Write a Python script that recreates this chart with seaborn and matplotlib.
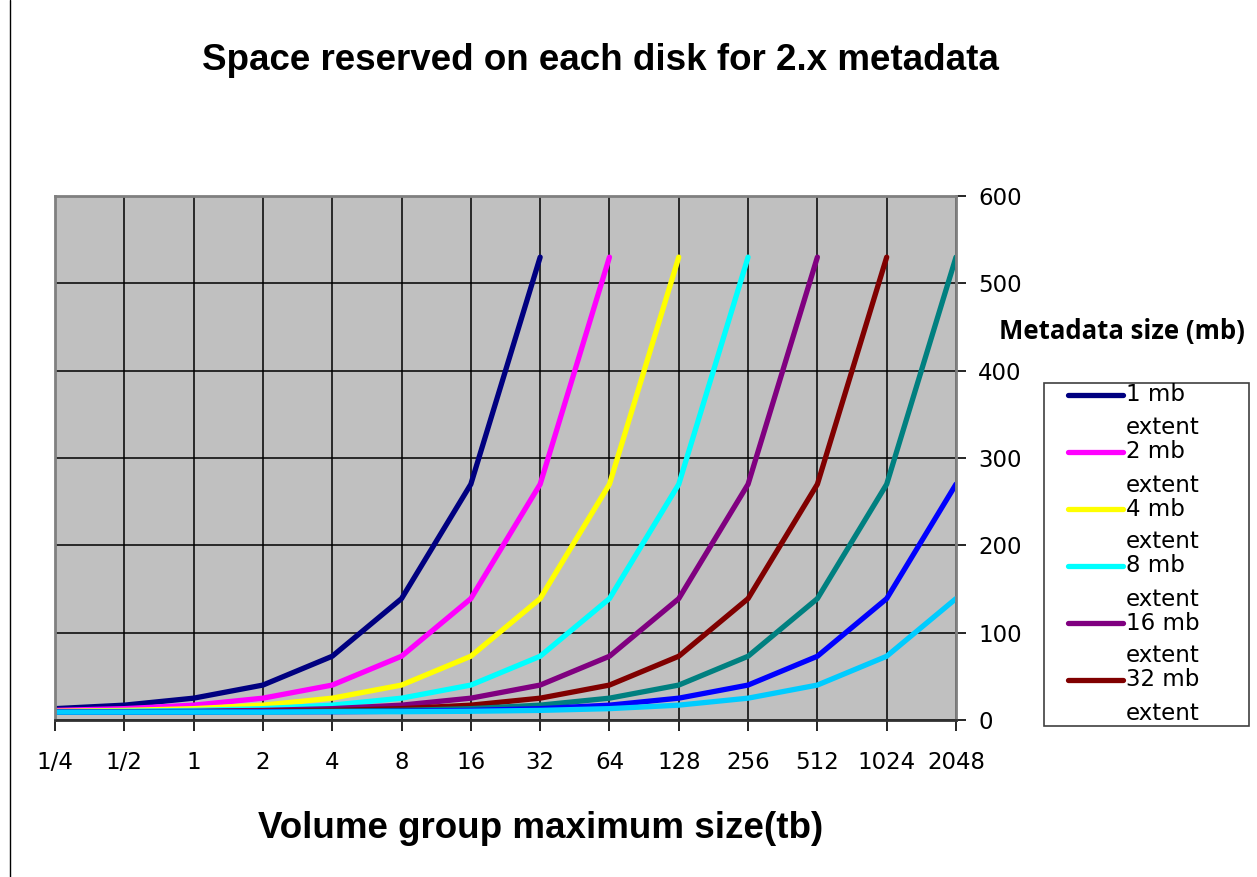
import numpy as np
import pandas as pd
import matplotlib
matplotlib.use("Agg")
import matplotlib.pyplot as plt
from matplotlib.lines import Line2D
from matplotlib.patches import Rectangle
import seaborn as sns

# Volume group maximum size (tb) categories
sizes = ["1/4", "1/2", "1", "2", "4", "8", "16", "32", "64", "128", "256", "512", "1024", "2048"]

# Metadata space reserved per disk (mb), one list per physical extent size
ext_1mb = [13, 17, 25, 40, 73, 139, 270, 530, None, None, None, None, None, None]
ext_2mb = [11, 13, 17, 25, 40, 73, 139, 270, 530, None, None, None, None, None]
ext_4mb = [10, 11, 13, 17, 25, 40, 73, 139, 270, 530, None, None, None, None]
ext_8mb = [9.5, 10, 11, 13, 17, 25, 40, 73, 139, 270, 530, None, None, None]
ext_16mb = [9.5, 9.5, 10, 11, 13, 17, 25, 40, 73, 139, 270, 530, None, None]
ext_32mb = [9, 9.5, 9.5, 10, 11, 13, 17, 25, 40, 73, 139, 270, 530, None]
ext_64mb = [9, 9, 9.5, 9.5, 10, 11, 13, 17, 25, 40, 73, 139, 270, 530]
ext_128mb = [9, 9, 9, 9.5, 9.5, 10, 11, 13, 17, 25, 40, 73, 139, 270]
ext_256mb = [9, 9, 9, 9, 9.5, 9.5, 10, 11, 13, 17, 25, 40, 73, 139]

series_names = ["1 mb", "2 mb", "4 mb", "8 mb", "16 mb", "32 mb", "64 mb", "128 mb", "256 mb"]
series_values = [ext_1mb, ext_2mb, ext_4mb, ext_8mb, ext_16mb, ext_32mb, ext_64mb, ext_128mb, ext_256mb]
series_colors = ["#000080", "#FF00FF", "#FFFF00", "#00FFFF", "#800080",
                 "#800000", "#008080", "#0000FF", "#00CCFF"]
legend_count = 6  # only the first entries fit in the legend box

rows = []
for name, vals in zip(series_names, series_values):
    for pos, (lab, v) in enumerate(zip(sizes, vals)):
        if v is not None:
            rows.append({"extent": name, "pos": pos, "size": lab, "mb": v})
df = pd.DataFrame(rows)

sns.set_theme(style="white")
plt.rcParams["font.family"] = ["DejaVu Sans"]
plt.rcParams["text.color"] = "black"
plt.rcParams["xtick.color"] = "black"
plt.rcParams["ytick.color"] = "black"
plt.rcParams["axes.labelcolor"] = "black"

W, H = 1257, 877
fig = plt.figure(figsize=(W / 100, H / 100), dpi=100)
fig.patch.set_facecolor("white")

def fx(px):
    return px / W

def fy(py):
    return 1 - py / H

ax = fig.add_axes([fx(55), fy(720), fx(956) - fx(55), fy(196) - fy(720)])
ax.set_facecolor("#C0C0C0")

sns.lineplot(data=df, x="pos", y="mb", hue="extent", hue_order=series_names,
             palette=dict(zip(series_names, series_colors)), linewidth=3.8,
             estimator=None, sort=True, legend=False, ax=ax)

ax.set_xlim(0, len(sizes) - 1)
ax.set_ylim(0, 600)
ax.set_xticks(range(len(sizes)))
ax.set_xticklabels(sizes)
ax.set_yticks(range(0, 601, 100))
ax.yaxis.tick_right()
ax.set_xlabel("")
ax.set_ylabel("")

ax.grid(True, color="black", linewidth=1.1)
ax.set_axisbelow(True)
ax.tick_params(axis="x", direction="out", length=8, width=1.2, color="black",
               pad=14, labelsize=16.5, labelcolor="black", bottom=True)
ax.tick_params(axis="y", direction="out", length=7, width=1.2, color="black",
               pad=9, labelsize=16.5, labelcolor="black", right=True, left=False)
for side in ["top", "left", "right"]:
    ax.spines[side].set_color("#808080")
    ax.spines[side].set_linewidth(2)
ax.spines["bottom"].set_color("#303030")
ax.spines["bottom"].set_linewidth(2)

# Titles
fig.text(fx(600), fy(60), "Space reserved on each disk for 2.x metadata",
         ha="center", va="center", fontsize=26.5, fontweight="bold", color="black",
         family=["Liberation Sans", "DejaVu Sans"])
fig.text(fx(541), fy(828), "Volume group maximum size(tb)",
         ha="center", va="center", fontsize=26.5, fontweight="bold", color="black",
         family=["Liberation Sans", "DejaVu Sans"])
fig.text(fx(1122), fy(331), "Metadata size (mb)",
         ha="center", va="center", fontsize=18.5, fontweight="bold", color="black",
         family=["Open Sans", "DejaVu Sans"])

# Legend box with wrapped entries
fig.add_artist(Rectangle((fx(1044), fy(726)), fx(1249) - fx(1044), fy(383) - fy(726),
                         transform=fig.transFigure, facecolor="white",
                         edgecolor="#404040", linewidth=1.2))
for j in range(legend_count):
    yc = 395 + 57 * j
    fig.add_artist(Line2D([fx(1068), fx(1123)], [fy(yc), fy(yc)],
                          transform=fig.transFigure, color=series_colors[j],
                          linewidth=3.8, solid_capstyle="round"))
    fig.text(fx(1126), fy(yc), series_names[j], ha="left", va="center",
             fontsize=16.5, color="black")
    fig.text(fx(1126), fy(yc + 33), "extent", ha="left", va="center",
             fontsize=16.5, color="black")

# Outer chart border on the left
fig.add_artist(Line2D([fx(10), fx(10)], [0, 1], transform=fig.transFigure,
                      color="black", linewidth=1))

fig.savefig("out.png", dpi=100)
